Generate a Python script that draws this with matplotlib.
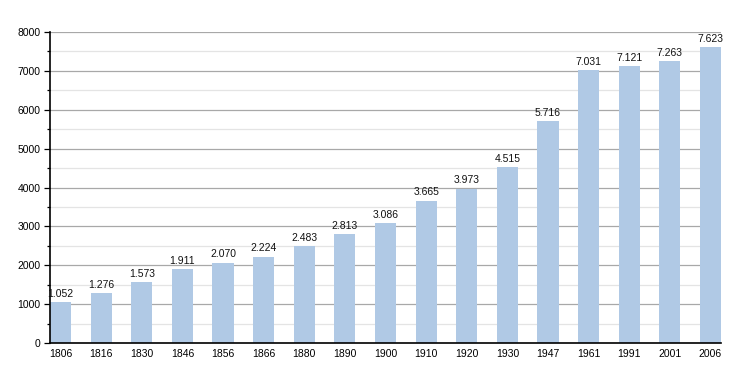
import matplotlib
matplotlib.use("Agg")
import matplotlib.pyplot as plt
from matplotlib.ticker import MultipleLocator

years = ["1806", "1816", "1830", "1846", "1856", "1866", "1880", "1890", "1900",
         "1910", "1920", "1930", "1947", "1961", "1991", "2001", "2006"]
population = [1052, 1276, 1573, 1911, 2070, 2224, 2483, 2813, 3086,
              3665, 3973, 4515, 5716, 7031, 7121, 7263, 7623]
labels = ["1.052", "1.276", "1.573", "1.911", "2.070", "2.224", "2.483", "2.813", "3.086",
          "3.665", "3.973", "4.515", "5.716", "7.031", "7.121", "7.263", "7.623"]

plt.rcParams['font.family'] = ['Liberation Sans', 'DejaVu Sans']
fig = plt.figure(figsize=(7.5, 3.73), dpi=100)
ax = fig.add_axes([50/750, 30/373, 671/750, 311/373])

x = list(range(len(years)))
w = 0.517
ax.bar(x, population, width=w, color="#b0c9e5", zorder=2)
for xi, v, lab in zip(x, population, labels):
    ax.text(xi, v + 80, lab, ha="center", va="bottom", fontsize=7.5, color="#111111", zorder=3)

ax.set_xlim(-w/2, len(years) - 1 + w/2)
ax.set_ylim(0, 8000)
ax.yaxis.set_major_locator(MultipleLocator(1000))
ax.yaxis.set_minor_locator(MultipleLocator(500))
ax.grid(axis="y", which="major", color="#a8a8a8", linewidth=0.9, zorder=0)
ax.grid(axis="y", which="minor", color="#e4e4e4", linewidth=0.9, zorder=0)
ax.set_xticks(x)
ax.set_xticklabels(years)
ax.tick_params(axis="x", length=0, labelsize=7.5, pad=4)
ax.tick_params(axis="y", which="major", length=4, width=0.9, labelsize=7.5, pad=3)
ax.tick_params(axis="y", which="minor", length=2, width=0.9)
for s in ["top", "right"]:
    ax.spines[s].set_visible(False)
ax.spines["left"].set_linewidth(1.2)
ax.spines["bottom"].set_linewidth(1.2)

fig.savefig("out.png", dpi=100)
